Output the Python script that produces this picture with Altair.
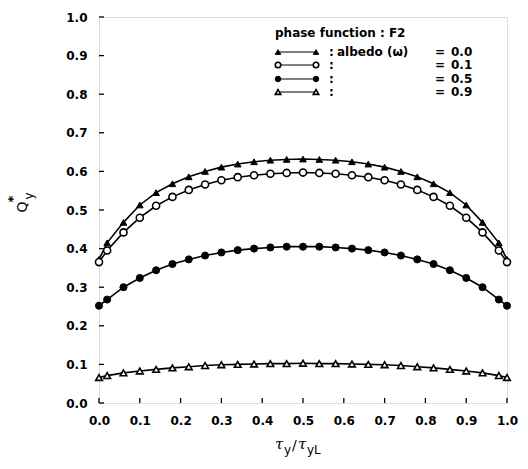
import altair as alt
import pandas as pd

# optical depth positions (tau_y / tau_yL)
tau = [0.0, 0.02, 0.06, 0.10, 0.14, 0.18, 0.22, 0.26, 0.30, 0.34, 0.38, 0.42, 0.46,
       0.50, 0.54, 0.58, 0.62, 0.66, 0.70, 0.74, 0.78, 0.82, 0.86, 0.90, 0.94, 0.98, 1.0]

# dimensionless heat flux Q*_y for each albedo
q_w00 = [0.372, 0.415, 0.468, 0.513, 0.545, 0.568, 0.586, 0.600, 0.611, 0.619, 0.625, 0.629, 0.631,
         0.632, 0.631, 0.629, 0.625, 0.619, 0.611, 0.600, 0.586, 0.568, 0.545, 0.513, 0.468, 0.415, 0.372]
q_w01 = [0.365, 0.395, 0.442, 0.480, 0.511, 0.534, 0.552, 0.566, 0.577, 0.585, 0.590, 0.594, 0.596,
         0.597, 0.596, 0.594, 0.590, 0.585, 0.577, 0.566, 0.552, 0.534, 0.511, 0.480, 0.442, 0.395, 0.365]
q_w05 = [0.252, 0.268, 0.300, 0.324, 0.344, 0.360, 0.372, 0.382, 0.390, 0.396, 0.400, 0.403, 0.405,
         0.405, 0.405, 0.403, 0.400, 0.396, 0.390, 0.382, 0.372, 0.360, 0.344, 0.324, 0.300, 0.268, 0.252]
q_w09 = [0.066, 0.071, 0.078, 0.083, 0.087, 0.091, 0.094, 0.097, 0.099, 0.100, 0.101, 0.102, 0.102,
         0.103, 0.102, 0.102, 0.101, 0.100, 0.099, 0.097, 0.094, 0.091, 0.087, 0.083, 0.078, 0.071, 0.066]

albedo_labels = ["0.0", "0.1", "0.5", "0.9"]
series_values = [q_w00, q_w01, q_w05, q_w09]
# marker style per albedo: (shape, filled)
marker_styles = [("triangle-up", True), ("circle", False), ("circle", True), ("triangle-up", False)]

tick_values = [0.0, 0.1, 0.2, 0.3, 0.4, 0.5, 0.6, 0.7, 0.8, 0.9, 1.0]

W, H = 408, 386
FONT = "DejaVu Sans"

x_scale = alt.Scale(domain=[0, 1], nice=False, zero=False)
y_scale = alt.Scale(domain=[0, 1], nice=False, zero=False)

axis_style = dict(values=tick_values, format=".1f", ticks=False, domain=False, grid=False,
                  labelPadding=12, labelFont=FONT, labelFontWeight="bold", labelFontSize=12,
                  labelColor="black", title=None, labelFlush=False, labelOverlap=False)
x_axis = alt.Axis(**axis_style)
y_axis = alt.Axis(**axis_style)


def marker(shape, filled, size):
    if filled:
        return dict(shape=shape, filled=True, fill="black", stroke="black", strokeWidth=1, size=size, opacity=1)
    return dict(shape=shape, filled=True, fill="white", stroke="black", strokeWidth=1.6, size=size, opacity=1)


layers = []
for lab, vals, (shape, filled) in zip(albedo_labels, series_values, marker_styles):
    df = pd.DataFrame({"tau": tau, "q": vals, "albedo": lab})
    base = alt.Chart(df).encode(
        x=alt.X("tau:Q", scale=x_scale, axis=x_axis),
        y=alt.Y("q:Q", scale=y_scale, axis=y_axis),
    )
    layers.append(base.mark_line(color="black", strokeWidth=1.6))
    size = 50 if shape == "circle" else 44
    layers.append(base.mark_point(**marker(shape, filled, size)))

# inward tick marks on the bottom and left axes
ticks_df = pd.DataFrame({"v": tick_values})
layers.append(alt.Chart(ticks_df).mark_rule(color="black", strokeWidth=1.3).encode(
    x=alt.X("v:Q", scale=x_scale, axis=x_axis), y=alt.value(H), y2=alt.value(H - 5)))
layers.append(alt.Chart(ticks_df).mark_rule(color="black", strokeWidth=1.3).encode(
    y=alt.Y("v:Q", scale=y_scale, axis=y_axis), x=alt.value(0), x2=alt.value(5)))

# legend block
row_y = [35, 48, 62, 75]


def txt(text, x, y, size=12, align="left", angle=0, style="normal", weight="bold", font=FONT):
    kw = dict(text=text, align=align, baseline="middle", fontSize=size, font=font,
              fontWeight=weight, color="black", fontStyle=style)
    if angle:
        kw["angle"] = angle
    return alt.Chart(pd.DataFrame({"t": [text]})).mark_text(**kw).encode(
        x=alt.value(x), y=alt.value(y))


layers.append(txt("phase function : F2", 176, 16))
for ry, lab, (shape, filled) in zip(row_y, albedo_labels, marker_styles):
    layers.append(alt.Chart(pd.DataFrame({"a": [lab]})).mark_rule(color="black", strokeWidth=1.2).encode(
        x=alt.value(179), x2=alt.value(217), y=alt.value(ry)))
    for mx in (179, 217):
        layers.append(alt.Chart(pd.DataFrame({"a": [lab]})).mark_point(**marker(shape, filled, 30)).encode(
            x=alt.value(mx), y=alt.value(ry)))
    layers.append(txt(":", 230, ry))
    layers.append(txt("=", 336, ry))
    layers.append(txt(lab, 352, ry))
layers.append(txt("albedo (ω)", 238, row_y[0]))

# axis titles with sub/superscripts
layers.append(txt("τ", 176, 427, size=15, style="italic", weight="normal", font="DejaVu Serif"))
layers.append(txt("y", 185, 433, size=12, weight="normal"))
layers.append(txt("/", 193, 429, size=14, weight="normal"))
layers.append(txt("τ", 199, 427, size=15, style="italic", weight="normal", font="DejaVu Serif"))
layers.append(txt("yL", 208, 433, size=12, weight="normal"))

layers.append(txt("Q", -76, 190, size=14, angle=270, align="center", weight="normal"))
layers.append(txt("*", -86, 182, size=13, angle=270, align="center", weight="bold"))
layers.append(txt("y", -70, 179, size=12, angle=270, align="center", weight="normal"))

chart = alt.layer(*layers).properties(
    width=W, height=H,
    autosize=alt.AutoSizeParams(type="none"),
    padding={"left": 99, "top": 17, "right": 21, "bottom": 66},
).configure_view(stroke="black", strokeWidth=1.5).configure(background="white")

chart.save("out.html", embed_options={"renderer": "svg", "actions": False})
